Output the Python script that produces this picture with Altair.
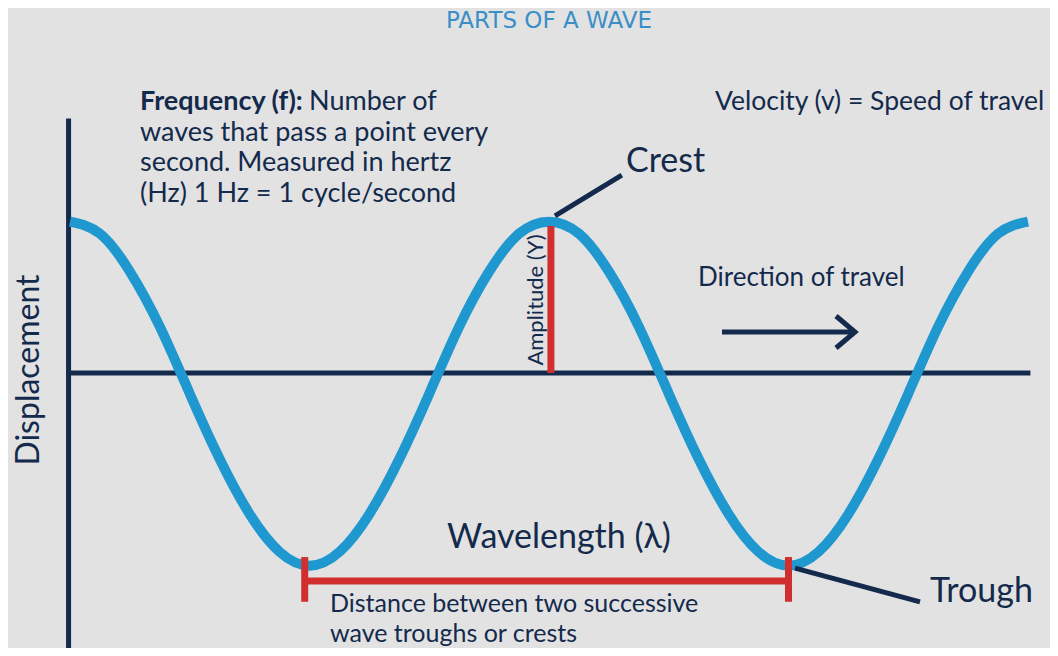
import altair as alt
import pandas as pd

# ---- data ----------------------------------------------------------------
# wave: phase in wavelengths (0 = first crest) and displacement (0 = rest line)
wave_phase = [0.0, 0.0625, 0.125, 0.1875, 0.25, 0.3125, 0.375, 0.4375, 0.5,
              0.5625, 0.625, 0.6875, 0.75, 0.8125, 0.875, 0.9375, 1.0,
              1.0625, 1.125, 1.1875, 1.25, 1.3125, 1.375, 1.4375, 1.5,
              1.5625, 1.625, 1.6875, 1.75, 1.8125, 1.875, 1.9375, 2.0]
wave_disp = [0.88, 0.81, 0.59, 0.27, -0.12, -0.50, -0.82, -1.04, -1.12,
             -1.04, -0.82, -0.50, -0.12, 0.27, 0.59, 0.81, 0.88,
             0.81, 0.59, 0.27, -0.12, -0.50, -0.82, -1.04, -1.12,
             -1.04, -0.82, -0.50, -0.12, 0.27, 0.59, 0.81, 0.88]

title_text = "PARTS OF A WAVE"
freq_bold = "Frequency (f):"
freq_lines = ["Number of", "waves that pass a point every",
              "second. Measured in hertz", "(Hz) 1 Hz = 1 cycle/second"]
velocity_text = "Velocity (v) = Speed of travel"
crest_text = "Crest"
trough_text = "Trough"
direction_text = "Direction of travel"
wavelength_text = "Wavelength (λ)"
distance_lines = ["Distance between two successive", "wave troughs or crests"]
y_label = "Displacement"
amp_label = "Amplitude (Y)"

# ---- styling --------------------------------------------------------------
BG = "#e2e2e2"
BLUE = "#1f97cf"
NAVY = "#142a4c"
RED = "#d12f2f"
TITLE_BLUE = "#3b8fc6"
FONT = "Lato"

W, H = 1042, 640
xs = alt.Scale(domain=[-0.12944, 2.04593], nice=False, zero=False)
ys = alt.Scale(domain=[-1.59884, 2.12209], nice=False, zero=False)


def X(field):
    return alt.X(field, type="quantitative", scale=xs, axis=None)


def Y(field):
    return alt.Y(field, type="quantitative", scale=ys, axis=None)


wave_df = pd.DataFrame({"t": wave_phase, "d": wave_disp})

wave = alt.Chart(wave_df).mark_line(
    color=BLUE, strokeWidth=10, interpolate="natural", strokeCap="butt"
).encode(x=X("t"), y=Y("d"))

# axes
axes_df = pd.DataFrame({
    "t": [-0.003, -0.008],
    "d": [1.48, 0.0],
    "t2": [-0.003, 2.005],
    "d2": [-1.80, 0.0],
})
axes = alt.Chart(axes_df).mark_rule(color=NAVY, strokeWidth=5).encode(
    x=X("t"), y=Y("d"), x2="t2", y2="d2")

# red measurement lines: amplitude, wavelength bar, two end ticks
red_df = pd.DataFrame({
    "t": [1.004, 0.49, 0.49, 1.5],
    "d": [0.0, -1.209, -1.07, -1.07],
    "t2": [1.004, 1.5, 0.49, 1.5],
    "d2": [0.855, -1.209, -1.33, -1.33],
})
red = alt.Chart(red_df).mark_rule(color=RED, strokeWidth=7).encode(
    x=X("t"), y=Y("d"), x2="t2", y2="d2")

# navy leaders + arrow shaft
lead_df = pd.DataFrame({
    "t": [1.0125, 1.5136, 1.3612],
    "d": [0.913, -1.134, 0.2384],
    "t2": [1.152, 1.7745, 1.6388],
    "d2": [1.151, -1.331, 0.2384],
})
leaders = alt.Chart(lead_df).mark_rule(color=NAVY, strokeWidth=5).encode(
    x=X("t"), y=Y("d"), x2="t2", y2="d2")

head_df = pd.DataFrame({"t": [1.5992, 1.6388, 1.5992],
                        "d": [0.3314, 0.2384, 0.1453], "o": [0, 1, 2]})
head = alt.Chart(head_df).mark_line(
    color=NAVY, strokeWidth=5, strokeJoin="miter", strokeCap="butt"
).encode(x=X("t"), y=Y("d"), order="o:Q")


def label(text, t, d, size=26, align="left", angle=0, weight="normal",
          color=NAVY, font=FONT):
    df = pd.DataFrame({"t": [t], "d": [d], "txt": [text]})
    kw = dict(align=align, baseline="alphabetic", fontSize=size, font=font,
              fontWeight=weight, color=color)
    if angle:
        kw["angle"] = angle
    return alt.Chart(df).mark_text(**kw).encode(x=X("t"), y=Y("d"), text="txt:N")


texts = [
    label(title_text, 1.0, 2.006, size=23, align="center", color=TITLE_BLUE,
          font="DejaVu Sans"),
    label(freq_bold, 0.1461, 1.529, size=27, weight="bold"),
    label(freq_lines[0], 0.4990, 1.529, size=27),
    label(freq_lines[1], 0.1461, 1.349, size=27),
    label(freq_lines[2], 0.1461, 1.174, size=27),
    label(freq_lines[3], 0.1461, 0.994, size=27),
    label(velocity_text, 1.3466, 1.529, size=26.5),
    label(crest_text, 1.1608, 1.1686, size=34),
    label(direction_text, 1.3111, 0.5058, size=26),
    label(wavelength_text, 1.0209, -1.0174, size=34, align="center"),
    label(trough_text, 1.7954, -1.3314, size=34),
    label(distance_lines[0], 0.5428, -1.3895, size=25),
    label(distance_lines[1], 0.5428, -1.564, size=25),
    label(y_label, -0.0647, 0.0174, size=32, align="center", angle=270),
    label(amp_label, 0.9875, 0.4244, size=22, align="center", angle=270),
]

chart = alt.layer(axes, wave, red, leaders, head, *texts).properties(
    width=W, height=H,
    autosize=alt.AutoSizeParams(type="none"),
    padding=0,
    background=BG,
).configure_view(stroke=None)

chart.save("out.html", embed_options={"renderer": "svg", "actions": False})
